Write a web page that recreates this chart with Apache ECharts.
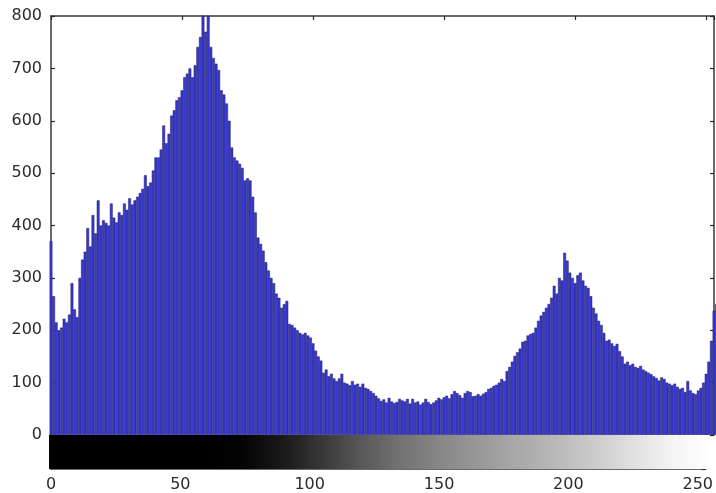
<!DOCTYPE html>
<html>
<head>
<meta charset="utf-8">
<script src="https://cdn.jsdelivr.net/npm/echarts@6/dist/echarts.min.js"></script>
<style>
  html, body { margin: 0; padding: 0; background: #fff; }
  #chart { width: 716px; height: 493px; }
</style>
</head>
<body>
<div id="chart"></div>
<script>
// pixel counts per gray level (0..255)
const counts = [
  370, 265, 215, 200, 205, 222, 215, 230, 290, 240,
  225, 300, 335, 350, 395, 360, 420, 385, 448, 400,
  410, 405, 400, 442, 415, 406, 425, 420, 442, 430,
  452, 440, 448, 455, 462, 470, 496, 475, 482, 505,
  530, 530, 545, 591, 557, 575, 610, 620, 639, 645,
  658, 683, 690, 700, 683, 706, 741, 760, 820, 770,
  830, 741, 720, 709, 697, 658, 650, 633, 600, 549,
  530, 524, 518, 510, 486, 490, 486, 455, 425, 377,
  365, 352, 330, 314, 300, 290, 270, 262, 243, 250,
  256, 212, 210, 205, 200, 195, 192, 195, 190, 186,
  175, 161, 150, 142, 119, 125, 112, 117, 108, 103,
  108, 117, 100, 98, 95, 103, 96, 98, 92, 98,
  90, 88, 84, 80, 75, 70, 65, 68, 62, 71,
  64, 61, 63, 69, 66, 64, 69, 60, 69, 62,
  64, 58, 62, 69, 63, 59, 62, 66, 71, 68,
  72, 75, 70, 78, 84, 80, 76, 71, 80, 84,
  82, 74, 75, 78, 75, 79, 82, 88, 90, 94,
  96, 100, 107, 103, 122, 130, 140, 151, 158, 165,
  178, 180, 190, 193, 195, 205, 218, 228, 235, 243,
  250, 262, 285, 270, 300, 295, 348, 333, 310, 300,
  290, 305, 310, 295, 285, 281, 265, 243, 232, 218,
  210, 195, 180, 182, 175, 170, 174, 160, 150, 136,
  140, 133, 136, 130, 128, 132, 125, 122, 119, 116,
  112, 109, 104, 110, 107, 100, 98, 95, 98, 92,
  88, 90, 82, 103, 85, 80, 78, 85, 90, 100,
  117, 140, 180, 237, 250, 240
];
const levels = counts.map((_, i) => i);
const xTickStep = 50;
const yTickStep = 100;
const yMax = 800;
const xMax = 253;

const chart = echarts.init(document.getElementById('chart'));

const frame = { show: true, onZero: false, lineStyle: { color: '#3a3a3a', width: 1.5 } };
const inTick = { show: true, inside: true, length: 4, lineStyle: { color: '#2a2a2a', width: 1.2 } };
const labelFont = { fontFamily: 'DejaVu Sans', fontSize: 16, color: '#2b2b2b' };

const options = {
    animation: false,
    backgroundColor: '#fff',
    grid: [
        { left: 51, right: 2, top: 16, height: 419 },
        { left: 51, right: 2, top: 435, height: 34 }
    ],
    xAxis: [
        { gridIndex: 0, type: 'value', min: 0, max: xMax, interval: xTickStep, position: 'bottom',
          axisLine: { show: false }, axisTick: { show: false }, axisLabel: { show: false }, splitLine: { show: false } },
        { gridIndex: 0, type: 'value', min: 0, max: xMax, interval: xTickStep, position: 'top',
          axisLine: frame, axisTick: inTick, axisLabel: { show: false }, splitLine: { show: false } },
        { gridIndex: 1, type: 'value', min: 0, max: xMax, interval: xTickStep, position: 'bottom',
          axisLine: frame, axisTick: inTick, splitLine: { show: false },
          axisLabel: Object.assign({ margin: 8 }, labelFont) },
        { gridIndex: 1, type: 'value', min: 0, max: xMax, interval: xTickStep, position: 'top',
          axisLine: { show: true, onZero: false, lineStyle: { color: '#222', width: 1 } }, axisTick: inTick,
          axisLabel: { show: false }, splitLine: { show: false } }
    ],
    yAxis: [
        { gridIndex: 0, type: 'value', min: 0, max: yMax, interval: yTickStep, position: 'left',
          axisLine: frame, axisTick: inTick, splitLine: { show: false },
          axisLabel: Object.assign({ margin: 9 }, labelFont) },
        { gridIndex: 0, type: 'value', min: 0, max: yMax, interval: yTickStep, position: 'right',
          axisLine: frame, axisTick: inTick, axisLabel: { show: false }, splitLine: { show: false } },
        { gridIndex: 1, type: 'value', min: 0, max: 1, position: 'left',
          axisLine: frame, axisTick: { show: false }, axisLabel: { show: false }, splitLine: { show: false } },
        { gridIndex: 1, type: 'value', min: 0, max: 1, interval: 0.5, position: 'right',
          axisLine: frame, axisTick: inTick, axisLabel: { show: false }, splitLine: { show: false } }
    ],
    visualMap: {
        show: false,
        type: 'continuous',
        seriesIndex: 1,
        dimension: 0,
        min: 0,
        max: 255,
        inRange: {
            color: ['#000000', '#000000', '#000000', '#000000', '#000000', '#050505',
                    '#1a1a1a', '#383838', '#585858', '#727272', '#868686', '#989898',
                    '#a8a8a8', '#b8b8b8', '#cbcbcb', '#e0e0e0', '#f3f3f3', '#ffffff']
        }
    },
    series: [
        {
            name: 'histogram',
            type: 'bar',
            xAxisIndex: 0,
            yAxisIndex: 0,
            barWidth: 2.8,
            clip: true,
            data: levels.map((g, i) => [g, counts[i]]),
            itemStyle: { color: '#3838d0', borderColor: '#1e1e6e', borderWidth: 0.5 }
        },
        {
            name: 'colorbar',
            type: 'bar',
            xAxisIndex: 2,
            yAxisIndex: 2,
            barWidth: 4,
            clip: true,
            data: levels.map(g => [g, 1])
        }
    ]
};

chart.setOption(options);
</script>
</body>
</html>
